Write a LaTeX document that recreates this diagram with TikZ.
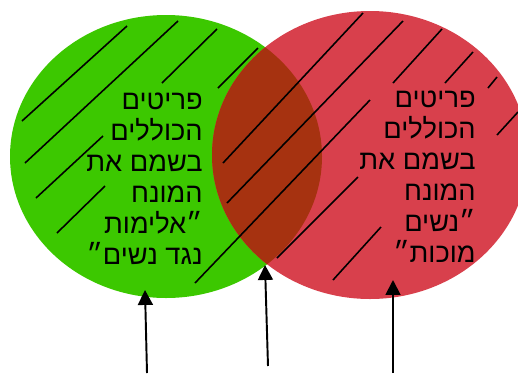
\documentclass[tikz,border=0pt]{standalone}
\usepackage{fontspec}
\newfontfamily\hebfont[Script=Hebrew]{Liberation Sans}
\TeXXeTstate=1
\usetikzlibrary{arrows.meta}
\definecolor{vennGreen}{HTML}{3CC800}
\definecolor{vennRed}{HTML}{D8404C}
\definecolor{vennBrown}{HTML}{A63210}

\begin{document}
\begin{tikzpicture}[x=0.02cm,y=-0.02cm,
    hatch/.style={line width=0.9pt},
    pointer/.style={-{Triangle[length=8.5pt,width=8.5pt]}, line width=1.1pt},
    hebtext/.style={font=\hebfont\fontsize{15.5}{17.6}\selectfont, align=right, inner sep=0pt, anchor=north east}]
        \clip (0,0) rectangle (518,373);
        \fill[vennGreen] (166,156.5) ellipse [x radius=156, y radius=141.5];
        \fill[vennRed] (370,155) ellipse [x radius=158, y radius=144];
        \begin{scope}
          \clip (166,156.5) ellipse [x radius=156, y radius=141.5];
          \fill[vennBrown] (370,155) ellipse [x radius=158, y radius=144];
        \end{scope}
        \foreach \xa/\ya/\xb/\yb in {22/121/127/26, 25/163/178/21, 162/83/217/29,
            218/88/258/48, 36/198/103/136, 57/233/105/186,
            223/163/363/13, 227/203/403/21, 195/283/370/100,
            393/83/442/29, 445/83/473/52, 488/88/497/77, 497/135/518/112,
            277/258/358/177, 333/280/381/227}
          \draw[hatch] (\xa,\ya) -- (\xb,\yb);
        \node[hebtext] (greenText) at (203,93) {\beginR פריטים\endR\\ \beginR הכוללים\endR\\ \beginR בשמם את\endR\\ \beginR המונח\endR\\ \beginR ״אלימות\endR\\ \beginR נגד נשים״\endR};
        \node[hebtext] (redText) at (476,91) {\beginR פריטים\endR\\ \beginR הכוללים\endR\\ \beginR בשמם את\endR\\ \beginR המונח\endR\\ \beginR ״נשים\endR\\ \beginR מוכות״\endR};
        \coordinate (greenFoot) at (147,373);
        \coordinate (greenTip) at (145,290);
        \coordinate (bothFoot) at (268,366);
        \coordinate (bothTip) at (265,265);
        \coordinate (redFoot) at (393,373);
        \coordinate (redTip) at (393,280);
        \draw[pointer] (greenFoot) -- (greenTip);
        \draw[pointer] (bothFoot) -- (bothTip);
        \draw[pointer] (redFoot) -- (redTip);
      \end{tikzpicture}
\end{document}
